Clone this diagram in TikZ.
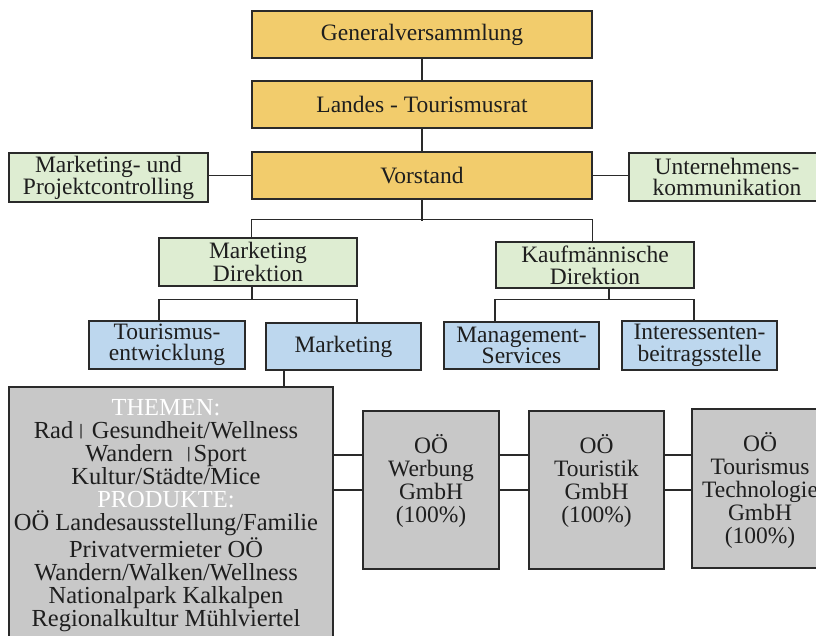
\documentclass[tikz,border=0pt]{standalone}
\usepackage{fontspec}
\setmainfont{Liberation Serif}
\usetikzlibrary{calc}
\definecolor{orangec}{HTML}{F2CC6C}
\definecolor{greenc}{HTML}{DEEDD2}
\definecolor{bluec}{HTML}{BDD7EE}
\definecolor{grayc}{HTML}{C8C8C8}
\definecolor{bordc}{HTML}{2A2A2A}
\definecolor{txtc}{HTML}{1E1E1E}
\newcommand{\vbarsym}{\raisebox{3.2pt}{\fontsize{16}{16}\selectfont\bfseries\textbar}}
\begin{document}
\begin{tikzpicture}[x=1pt,y=-1pt,
  box/.style={draw=bordc, line width=1.4pt, inner sep=0pt, align=center, text=txtc,
    font=\fontsize{23.5}{21.5}\selectfont},
  obox/.style={box, fill=orangec, minimum width=340pt, minimum height=47pt},
  gbox/.style={box, fill=greenc, minimum height=48pt},
  bbox/.style={box, fill=bluec, minimum height=47pt, minimum width=155pt},
  cbox/.style={box, fill=grayc},
  ctext/.style={inner sep=0pt, align=center, text=txtc, font=\fontsize{23.5}{23}\selectfont},
  conn/.style={draw=bordc, line width=1.2pt}]
\useasboundingbox (0,0) rectangle (816,636);
\clip (0,0) rectangle (816,636);
\fill[white] (0,0) rectangle (816,636);

% top chain
\node[obox] (gv) at (422,34.5) {Generalversammlung};
\node[obox] (lt) at (422,104.5) {Landes - Tourismusrat};
\node[obox] (vs) at (422,175.5) {Vorstand};

% staff units
\node[gbox, minimum width=199pt, minimum height=49pt, font=\fontsize{23.5}{22}\selectfont] (mup) at (108.5,177.5) {Marketing- und\\Projektcontrolling};
\node[gbox, minimum width=196pt, font=\fontsize{23.5}{21.5}\selectfont] (uk) at (727,177) {Unternehmens-\\kommunikation};

% directorates
\node[gbox, minimum width=198pt, font=\fontsize{23.5}{23.5}\selectfont] (md) at (258,262) {Marketing\\Direktion};
\node[gbox, minimum width=198pt, minimum height=46pt, font=\fontsize{23.5}{22}\selectfont] (kd) at (595,265) {Kaufmännische\\Direktion};

% departments
\node[bbox, minimum width=156pt, minimum height=48pt, font=\fontsize{23.5}{21.5}\selectfont] (te) at (167,345) {Tourismus-\\entwicklung};
\node[bbox] (mk) at (343.5,346.5) {Marketing};
\node[bbox, font=\fontsize{23.5}{21.5}\selectfont] (ms) at (521.5,345.5) {Management-\\Services};
\node[bbox, minimum height=49pt, font=\fontsize{23.5}{21.5}\selectfont] (ib) at (699.5,345.5) {Interessenten-\\beitragsstelle};

% grey boxes
\node[cbox, minimum width=324pt, minimum height=263pt] (th) at (171,518.5) {};
\node[ctext, font=\fontsize{24.5}{23.1}\selectfont] (tht) at (166,515.5) {\textcolor{white}{THEMEN:}\\Rad\hspace{6pt}\vbarsym\hspace{9pt}Gesundheit/Wellness\\Wandern\hspace{14pt}\vbarsym\hspace{3pt}Sport\\Kultur/Städte/Mice\\\textcolor{white}{PRODUKTE:}\\OÖ Landesausstellung/Familie\\Privatvermieter OÖ\\Wandern/Walken/Wellness\\Nationalpark Kalkalpen\\Regionalkultur Mühlviertel};

\node[cbox, minimum width=136pt, minimum height=158pt] (wb) at (431,490) {};
\node[ctext] (wbt) at (431,481) {OÖ\\Werbung\\GmbH\\(100\%)};
\node[cbox, minimum width=135pt, minimum height=158pt] (tk) at (596.5,490) {};
\node[ctext] (tkt) at (596.5,481) {OÖ\\Touristik\\GmbH\\(100\%)};
\node[cbox, minimum width=136pt, minimum height=159pt] (tt) at (760,488.5) {};
\node[ctext] (ttt) at (760,490) {OÖ\\Tourismus\\Technologie\\GmbH\\(100\%)};

% connectors
\draw[conn] (gv.south) -- (lt.north);
\draw[conn] (lt.south) -- (vs.north);
\draw[conn] (mup.east |- vs.west) -- (vs.west);
\draw[conn] (vs.east) -- (uk.west |- vs.east);
\draw[conn] (vs.south) -- ($(vs.south)+(0,21)$);
\draw[conn] (vs.south west |- md.north) -- ++(0,-18) -| (vs.south east |- kd.north);
\draw[conn] (md.south -| 252,0) -- ++(0,13) coordinate (mdj);
\draw[conn] (te.north -| 159,0) |- (mdj) -| (mk.north -| 357,0);
\draw[conn] (kd.south -| 609,0) -- ++(0,11) coordinate (kdj);
\draw[conn] (ms.north -| 495,0) |- (kdj) -| (ib.north -| 694,0);
\draw[conn] (mk.south -| 284,0) -- (th.north -| 284,0);
\foreach \yy in {455,490}{
  \draw[conn] (th.east |- 0,\yy) -- (wb.west |- 0,\yy);
  \draw[conn] (wb.east |- 0,\yy) -- (tk.west |- 0,\yy);
  \draw[conn] (tk.east |- 0,\yy) -- (tt.west |- 0,\yy);
}
\end{tikzpicture}
\end{document}
